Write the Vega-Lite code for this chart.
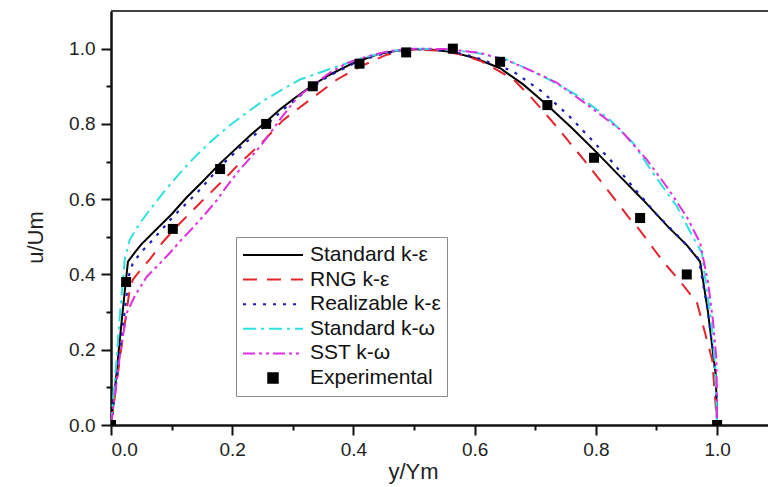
{
  "$schema": "https://vega.github.io/schema/vega-lite/v6.json",
  "autosize": "none",
  "padding": {"left": 111, "top": 11, "right": 0, "bottom": 62},
  "width": 657,
  "height": 414,
  "background": "white",
  "config": {
    "view": {"stroke": null},
    "font": "Liberation Sans",
    "axis": {
      "grid": false,
      "domainColor": "#111",
      "domainWidth": 2.5,
      "tickColor": "#111",
      "tickWidth": 2,
      "labelFont": "Liberation Sans",
      "labelFontSize": 19,
      "labelColor": "#222",
      "titleFont": "Liberation Sans",
      "titleFontSize": 22,
      "titleFontWeight": "normal",
      "titleColor": "#222"
    }
  },
  "datasets": {
    "lines": [
      {"model": "Standard k-ε", "x": 0, "y": 0},
      {"model": "Standard k-ε", "x": 0.008, "y": 0.12},
      {"model": "Standard k-ε", "x": 0.016, "y": 0.25},
      {"model": "Standard k-ε", "x": 0.023, "y": 0.36},
      {"model": "Standard k-ε", "x": 0.028, "y": 0.434},
      {"model": "Standard k-ε", "x": 0.04, "y": 0.46},
      {"model": "Standard k-ε", "x": 0.05, "y": 0.48},
      {"model": "Standard k-ε", "x": 0.075, "y": 0.52},
      {"model": "Standard k-ε", "x": 0.1, "y": 0.56},
      {"model": "Standard k-ε", "x": 0.125, "y": 0.605},
      {"model": "Standard k-ε", "x": 0.15, "y": 0.645},
      {"model": "Standard k-ε", "x": 0.18, "y": 0.695},
      {"model": "Standard k-ε", "x": 0.2, "y": 0.725},
      {"model": "Standard k-ε", "x": 0.23, "y": 0.77},
      {"model": "Standard k-ε", "x": 0.256, "y": 0.806},
      {"model": "Standard k-ε", "x": 0.28, "y": 0.84},
      {"model": "Standard k-ε", "x": 0.3, "y": 0.865},
      {"model": "Standard k-ε", "x": 0.33, "y": 0.9},
      {"model": "Standard k-ε", "x": 0.36, "y": 0.93},
      {"model": "Standard k-ε", "x": 0.4, "y": 0.962},
      {"model": "Standard k-ε", "x": 0.44, "y": 0.985},
      {"model": "Standard k-ε", "x": 0.48, "y": 0.997},
      {"model": "Standard k-ε", "x": 0.52, "y": 0.999},
      {"model": "Standard k-ε", "x": 0.56, "y": 0.992},
      {"model": "Standard k-ε", "x": 0.6, "y": 0.975},
      {"model": "Standard k-ε", "x": 0.642, "y": 0.948},
      {"model": "Standard k-ε", "x": 0.68, "y": 0.905},
      {"model": "Standard k-ε", "x": 0.719, "y": 0.851},
      {"model": "Standard k-ε", "x": 0.76, "y": 0.79},
      {"model": "Standard k-ε", "x": 0.802, "y": 0.723},
      {"model": "Standard k-ε", "x": 0.84, "y": 0.66},
      {"model": "Standard k-ε", "x": 0.878, "y": 0.598},
      {"model": "Standard k-ε", "x": 0.92, "y": 0.525},
      {"model": "Standard k-ε", "x": 0.95, "y": 0.478},
      {"model": "Standard k-ε", "x": 0.972, "y": 0.434},
      {"model": "Standard k-ε", "x": 0.985, "y": 0.3},
      {"model": "Standard k-ε", "x": 0.998, "y": 0.13},
      {"model": "Standard k-ε", "x": 1.0, "y": 0},

      {"model": "RNG k-ε", "x": 0, "y": 0},
      {"model": "RNG k-ε", "x": 0.01, "y": 0.12},
      {"model": "RNG k-ε", "x": 0.02, "y": 0.24},
      {"model": "RNG k-ε", "x": 0.03, "y": 0.35},
      {"model": "RNG k-ε", "x": 0.036, "y": 0.386},
      {"model": "RNG k-ε", "x": 0.05, "y": 0.415},
      {"model": "RNG k-ε", "x": 0.064, "y": 0.44},
      {"model": "RNG k-ε", "x": 0.086, "y": 0.487},
      {"model": "RNG k-ε", "x": 0.11, "y": 0.53},
      {"model": "RNG k-ε", "x": 0.147, "y": 0.59},
      {"model": "RNG k-ε", "x": 0.185, "y": 0.65},
      {"model": "RNG k-ε", "x": 0.215, "y": 0.7},
      {"model": "RNG k-ε", "x": 0.246, "y": 0.745},
      {"model": "RNG k-ε", "x": 0.284, "y": 0.81},
      {"model": "RNG k-ε", "x": 0.328, "y": 0.864},
      {"model": "RNG k-ε", "x": 0.373, "y": 0.918},
      {"model": "RNG k-ε", "x": 0.411, "y": 0.952},
      {"model": "RNG k-ε", "x": 0.455, "y": 0.984},
      {"model": "RNG k-ε", "x": 0.5, "y": 0.998},
      {"model": "RNG k-ε", "x": 0.54, "y": 0.995},
      {"model": "RNG k-ε", "x": 0.575, "y": 0.985},
      {"model": "RNG k-ε", "x": 0.609, "y": 0.968},
      {"model": "RNG k-ε", "x": 0.663, "y": 0.92},
      {"model": "RNG k-ε", "x": 0.697, "y": 0.864},
      {"model": "RNG k-ε", "x": 0.735, "y": 0.793},
      {"model": "RNG k-ε", "x": 0.78, "y": 0.705},
      {"model": "RNG k-ε", "x": 0.823, "y": 0.617},
      {"model": "RNG k-ε", "x": 0.856, "y": 0.548},
      {"model": "RNG k-ε", "x": 0.868, "y": 0.527},
      {"model": "RNG k-ε", "x": 0.911, "y": 0.434},
      {"model": "RNG k-ε", "x": 0.94, "y": 0.38},
      {"model": "RNG k-ε", "x": 0.967, "y": 0.324},
      {"model": "RNG k-ε", "x": 0.992, "y": 0.173},
      {"model": "RNG k-ε", "x": 1.0, "y": 0},

      {"model": "Realizable k-ε", "x": 0, "y": 0},
      {"model": "Realizable k-ε", "x": 0.01, "y": 0.13},
      {"model": "Realizable k-ε", "x": 0.02, "y": 0.27},
      {"model": "Realizable k-ε", "x": 0.03, "y": 0.4},
      {"model": "Realizable k-ε", "x": 0.036, "y": 0.43},
      {"model": "Realizable k-ε", "x": 0.05, "y": 0.46},
      {"model": "Realizable k-ε", "x": 0.069, "y": 0.492},
      {"model": "Realizable k-ε", "x": 0.102, "y": 0.553},
      {"model": "Realizable k-ε", "x": 0.142, "y": 0.617},
      {"model": "Realizable k-ε", "x": 0.18, "y": 0.686},
      {"model": "Realizable k-ε", "x": 0.218, "y": 0.745},
      {"model": "Realizable k-ε", "x": 0.257, "y": 0.798},
      {"model": "Realizable k-ε", "x": 0.284, "y": 0.838},
      {"model": "Realizable k-ε", "x": 0.32, "y": 0.885},
      {"model": "Realizable k-ε", "x": 0.36, "y": 0.928},
      {"model": "Realizable k-ε", "x": 0.4, "y": 0.96},
      {"model": "Realizable k-ε", "x": 0.44, "y": 0.983},
      {"model": "Realizable k-ε", "x": 0.48, "y": 0.996},
      {"model": "Realizable k-ε", "x": 0.52, "y": 0.999},
      {"model": "Realizable k-ε", "x": 0.56, "y": 0.993},
      {"model": "Realizable k-ε", "x": 0.6, "y": 0.978},
      {"model": "Realizable k-ε", "x": 0.63, "y": 0.96},
      {"model": "Realizable k-ε", "x": 0.663, "y": 0.94},
      {"model": "Realizable k-ε", "x": 0.711, "y": 0.886},
      {"model": "Realizable k-ε", "x": 0.754, "y": 0.824},
      {"model": "Realizable k-ε", "x": 0.793, "y": 0.758},
      {"model": "Realizable k-ε", "x": 0.828, "y": 0.697},
      {"model": "Realizable k-ε", "x": 0.86, "y": 0.635},
      {"model": "Realizable k-ε", "x": 0.9, "y": 0.56},
      {"model": "Realizable k-ε", "x": 0.94, "y": 0.495},
      {"model": "Realizable k-ε", "x": 0.97, "y": 0.44},
      {"model": "Realizable k-ε", "x": 0.985, "y": 0.3},
      {"model": "Realizable k-ε", "x": 0.998, "y": 0.13},
      {"model": "Realizable k-ε", "x": 1.0, "y": 0},

      {"model": "Standard k-ω", "x": 0, "y": 0},
      {"model": "Standard k-ω", "x": 0.008, "y": 0.15},
      {"model": "Standard k-ω", "x": 0.015, "y": 0.3},
      {"model": "Standard k-ω", "x": 0.023, "y": 0.444},
      {"model": "Standard k-ω", "x": 0.031, "y": 0.492},
      {"model": "Standard k-ω", "x": 0.045, "y": 0.53},
      {"model": "Standard k-ω", "x": 0.064, "y": 0.572},
      {"model": "Standard k-ω", "x": 0.09, "y": 0.625},
      {"model": "Standard k-ω", "x": 0.114, "y": 0.67},
      {"model": "Standard k-ω", "x": 0.14, "y": 0.715},
      {"model": "Standard k-ω", "x": 0.168, "y": 0.758},
      {"model": "Standard k-ω", "x": 0.195, "y": 0.795},
      {"model": "Standard k-ω", "x": 0.224, "y": 0.83},
      {"model": "Standard k-ω", "x": 0.25, "y": 0.86},
      {"model": "Standard k-ω", "x": 0.279, "y": 0.888},
      {"model": "Standard k-ω", "x": 0.312, "y": 0.918},
      {"model": "Standard k-ω", "x": 0.361, "y": 0.946},
      {"model": "Standard k-ω", "x": 0.416, "y": 0.976},
      {"model": "Standard k-ω", "x": 0.46, "y": 0.993},
      {"model": "Standard k-ω", "x": 0.5, "y": 1.0},
      {"model": "Standard k-ω", "x": 0.55, "y": 0.998},
      {"model": "Standard k-ω", "x": 0.6, "y": 0.99},
      {"model": "Standard k-ω", "x": 0.653, "y": 0.971},
      {"model": "Standard k-ω", "x": 0.713, "y": 0.926},
      {"model": "Standard k-ω", "x": 0.774, "y": 0.872},
      {"model": "Standard k-ω", "x": 0.823, "y": 0.811},
      {"model": "Standard k-ω", "x": 0.861, "y": 0.75},
      {"model": "Standard k-ω", "x": 0.894, "y": 0.67},
      {"model": "Standard k-ω", "x": 0.934, "y": 0.58},
      {"model": "Standard k-ω", "x": 0.96, "y": 0.5},
      {"model": "Standard k-ω", "x": 0.975, "y": 0.457},
      {"model": "Standard k-ω", "x": 0.98, "y": 0.394},
      {"model": "Standard k-ω", "x": 0.99, "y": 0.28},
      {"model": "Standard k-ω", "x": 0.997, "y": 0.154},
      {"model": "Standard k-ω", "x": 1.0, "y": 0},

      {"model": "SST k-ω", "x": 0, "y": 0},
      {"model": "SST k-ω", "x": 0.008, "y": 0.1},
      {"model": "SST k-ω", "x": 0.016, "y": 0.2},
      {"model": "SST k-ω", "x": 0.026, "y": 0.298},
      {"model": "SST k-ω", "x": 0.04, "y": 0.345},
      {"model": "SST k-ω", "x": 0.059, "y": 0.394},
      {"model": "SST k-ω", "x": 0.078, "y": 0.425},
      {"model": "SST k-ω", "x": 0.097, "y": 0.457},
      {"model": "SST k-ω", "x": 0.115, "y": 0.49},
      {"model": "SST k-ω", "x": 0.135, "y": 0.524},
      {"model": "SST k-ω", "x": 0.155, "y": 0.56},
      {"model": "SST k-ω", "x": 0.175, "y": 0.598},
      {"model": "SST k-ω", "x": 0.19, "y": 0.632},
      {"model": "SST k-ω", "x": 0.208, "y": 0.67},
      {"model": "SST k-ω", "x": 0.23, "y": 0.71},
      {"model": "SST k-ω", "x": 0.251, "y": 0.75},
      {"model": "SST k-ω", "x": 0.279, "y": 0.812},
      {"model": "SST k-ω", "x": 0.307, "y": 0.87},
      {"model": "SST k-ω", "x": 0.335, "y": 0.905},
      {"model": "SST k-ω", "x": 0.361, "y": 0.936},
      {"model": "SST k-ω", "x": 0.39, "y": 0.962},
      {"model": "SST k-ω", "x": 0.422, "y": 0.979},
      {"model": "SST k-ω", "x": 0.46, "y": 0.994},
      {"model": "SST k-ω", "x": 0.5, "y": 1.0},
      {"model": "SST k-ω", "x": 0.55, "y": 0.999},
      {"model": "SST k-ω", "x": 0.609, "y": 0.989},
      {"model": "SST k-ω", "x": 0.658, "y": 0.966},
      {"model": "SST k-ω", "x": 0.7, "y": 0.937},
      {"model": "SST k-ω", "x": 0.735, "y": 0.91},
      {"model": "SST k-ω", "x": 0.79, "y": 0.846},
      {"model": "SST k-ω", "x": 0.84, "y": 0.785},
      {"model": "SST k-ω", "x": 0.884, "y": 0.705},
      {"model": "SST k-ω", "x": 0.917, "y": 0.633},
      {"model": "SST k-ω", "x": 0.95, "y": 0.553},
      {"model": "SST k-ω", "x": 0.972, "y": 0.484},
      {"model": "SST k-ω", "x": 0.98, "y": 0.42},
      {"model": "SST k-ω", "x": 0.985, "y": 0.38},
      {"model": "SST k-ω", "x": 0.993, "y": 0.28},
      {"model": "SST k-ω", "x": 0.999, "y": 0.173},
      {"model": "SST k-ω", "x": 1.0, "y": 0}
    ],
    "exp": [
      {"model": "Experimental", "x": 0, "y": 0},
      {"model": "Experimental", "x": 0.025, "y": 0.38},
      {"model": "Experimental", "x": 0.102, "y": 0.521},
      {"model": "Experimental", "x": 0.18, "y": 0.68},
      {"model": "Experimental", "x": 0.256, "y": 0.8},
      {"model": "Experimental", "x": 0.333, "y": 0.9},
      {"model": "Experimental", "x": 0.41, "y": 0.96},
      {"model": "Experimental", "x": 0.487, "y": 0.99},
      {"model": "Experimental", "x": 0.564, "y": 1.0},
      {"model": "Experimental", "x": 0.642, "y": 0.965},
      {"model": "Experimental", "x": 0.72, "y": 0.85},
      {"model": "Experimental", "x": 0.797, "y": 0.71},
      {"model": "Experimental", "x": 0.873, "y": 0.55},
      {"model": "Experimental", "x": 0.95, "y": 0.4},
      {"model": "Experimental", "x": 1.0, "y": 0}
    ]
  },
  "encoding": {
    "x": {
      "field": "x", "type": "quantitative",
      "scale": {"domain": [0, 1.084], "nice": false, "zero": false},
      "axis": {
        "title": "y/Ym",
        "values": [0, 0.1, 0.2, 0.3, 0.4, 0.5, 0.6, 0.7, 0.8, 0.9, 1.0],
        "labelExpr": "round(datum.value*10) % 2 == 0 ? format(datum.value, '.1f') : ''",
        "tickSize": {"condition": {"test": "round(datum.value*10) % 2 == 1", "value": 5}, "value": 10},
        "labelPadding": 5,
        "titleX": 302,
        "titleY": 46,
        "titleBaseline": "middle"
      }
    },
    "y": {
      "field": "y", "type": "quantitative",
      "scale": {"domain": [0, 1.1], "nice": false, "zero": false},
      "axis": {
        "title": "u/Um",
        "values": [0, 0.1, 0.2, 0.3, 0.4, 0.5, 0.6, 0.7, 0.8, 0.9, 1.0],
        "labelExpr": "round(datum.value*10) % 2 == 0 ? format(datum.value, '.1f') : ''",
        "tickSize": {"condition": {"test": "round(datum.value*10) % 2 == 1", "value": 5}, "value": 10},
        "labelPadding": 6,
        "titleX": -76,
        "titleY": 226,
        "titleBaseline": "middle"
      }
    },
    "color": {
      "field": "model", "type": "nominal",
      "scale": {
        "domain": ["Standard k-ε", "RNG k-ε", "Realizable k-ε", "Standard k-ω", "SST k-ω", "Experimental"],
        "range": ["#000000", "#e3242b", "#1c1cb4", "#2ee0e0", "#e02ee0", "#000000"]
      },
      "legend": {
        "title": null,
        "orient": "none",
        "legendX": 125,
        "legendY": 226,
        "fillColor": "white",
        "strokeColor": "#8a8a8a",
        "padding": 6,
        "symbolType": "stroke",
        "symbolSize": 3600,
        "symbolStrokeWidth": 2,
        "clipHeight": 24,
        "rowPadding": 0.6,
        "labelFont": "Liberation Sans",
        "labelFontSize": 21,
        "labelColor": "#111",
        "labelOffset": 6,
        "labelLimit": 300,
        "encode": {
          "symbols": {
            "update": {
              "shape": {"signal": "datum.value === 'Experimental' ? 'square' : 'stroke'"},
              "size": {"signal": "datum.value === 'Experimental' ? 90 : 3600"},
              "fill": {"signal": "datum.value === 'Experimental' ? '#000000' : 'transparent'"},
              "strokeDash": {"signal": "datum.value === 'RNG k-ε' ? [14, 10] : datum.value === 'Realizable k-ε' ? [3, 7] : datum.value === 'Standard k-ω' ? [13, 5, 3, 5] : datum.value === 'SST k-ω' ? [12, 4, 3, 4, 3, 4] : [1, 0]"}
            }
          }
        }
      }
    }
  },
  "layer": [
    {
      "data": {"name": "lines"},
      "transform": [{"filter": "datum.model === 'Standard k-ε'"}],
      "mark": {"type": "line", "strokeWidth": 2, "clip": true}
    },
    {
      "data": {"name": "lines"},
      "transform": [{"filter": "datum.model === 'RNG k-ε'"}],
      "mark": {"type": "line", "strokeWidth": 2, "strokeDash": [14, 10], "clip": true}
    },
    {
      "data": {"name": "lines"},
      "transform": [{"filter": "datum.model === 'Realizable k-ε'"}],
      "mark": {"type": "line", "strokeWidth": 2.2, "strokeDash": [3, 7], "clip": true}
    },
    {
      "data": {"name": "lines"},
      "transform": [{"filter": "datum.model === 'Standard k-ω'"}],
      "mark": {"type": "line", "strokeWidth": 2, "strokeDash": [13, 5, 3, 5], "clip": true}
    },
    {
      "data": {"name": "lines"},
      "transform": [{"filter": "datum.model === 'SST k-ω'"}],
      "mark": {"type": "line", "strokeWidth": 2, "strokeDash": [12, 4, 3, 4, 3, 4], "clip": true}
    },
    {
      "data": {"name": "exp"},
      "mark": {"type": "point", "shape": "square", "filled": true, "size": 100, "opacity": 1, "clip": true}
    },
    {
      "data": {"name": "exp"},
      "transform": [{"filter": "datum.x == 0"}],
      "mark": {"type": "rule", "strokeWidth": 2},
      "encoding": {
        "x": {"value": 0},
        "x2": {"value": "width"},
        "y": {"datum": 1.1},
        "color": {"value": "#444444"}
      }
    }
  ]
}
